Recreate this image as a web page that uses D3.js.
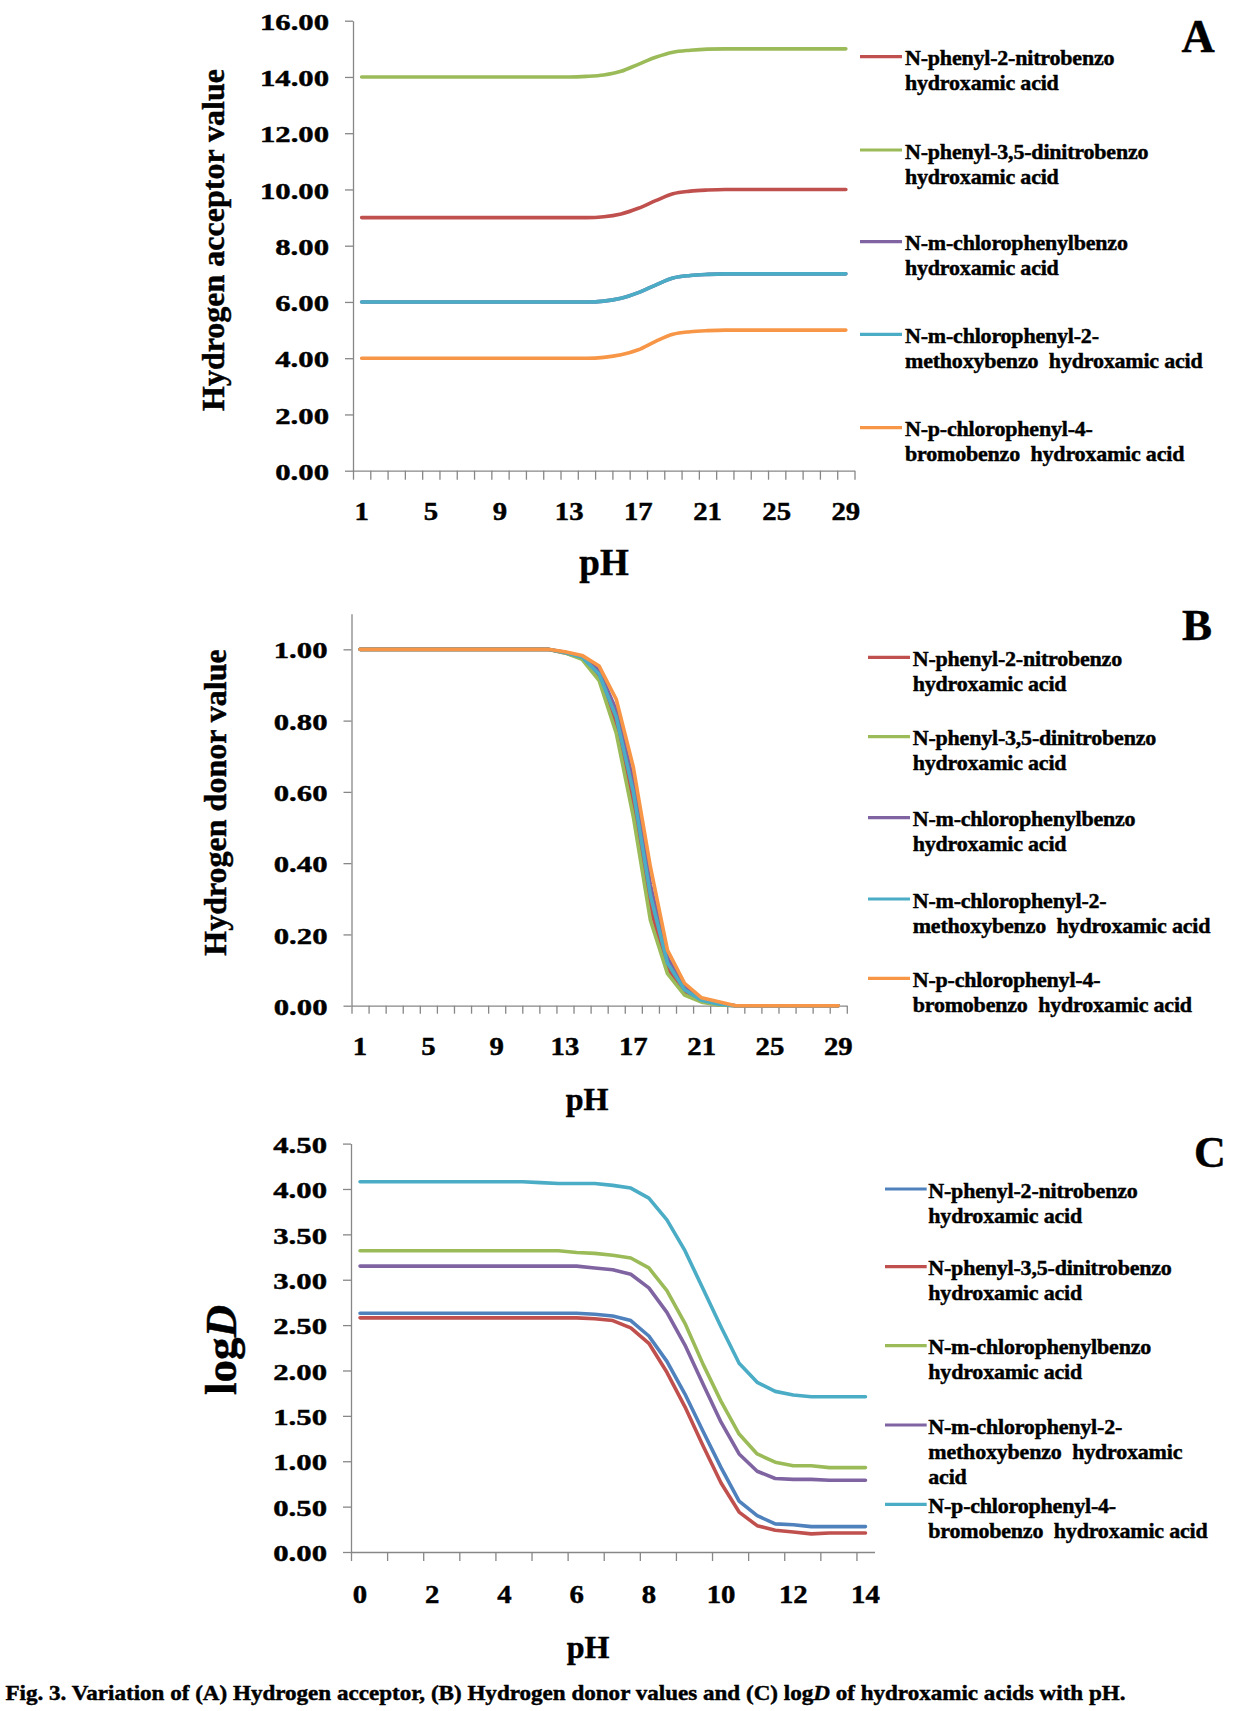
<!DOCTYPE html>
<html><head><meta charset="utf-8">
<script src="https://cdn.jsdelivr.net/npm/d3@7"></script>
<style>
html,body{margin:0;padding:0;background:#fff;}
svg{display:block;}
text{font-family:"Liberation Serif","Times New Roman",serif;font-weight:bold;fill:#000;white-space:pre;stroke:#000;stroke-width:0.45px;}
</style></head><body>
<svg id="chart" width="1245" height="1711"></svg>
<script>
// ---------- DATA ----------
const categoriesAB = [1,2,3,4,5,6,7,8,9,10,11,12,13,14,15,16,17,18,19,20,21,22,23,24,25,26,27,28,29];
const categoriesC = [0,0.5,1,1.5,2,2.5,3,3.5,4,4.5,5,5.5,6,6.5,7,7.5,8,8.5,9,9.5,10,10.5,11,11.5,12,12.5,13,13.5,14];
const xTickLabelsAB = [1,5,9,13,17,21,25,29];
const xTickLabelsC = [0,2,4,6,8,10,12,14];
const yTicksA = [0,2,4,6,8,10,12,14,16];
const yTicksB = [0,0.2,0.4,0.6,0.8,1.0];
const yTicksC = [0,0.5,1,1.5,2,2.5,3,3.5,4,4.5];

const seriesNamesAB = [
  ["N-phenyl-2-nitrobenzo","hydroxamic acid"],
  ["N-phenyl-3,5-dinitrobenzo","hydroxamic acid"],
  ["N-m-chlorophenylbenzo","hydroxamic acid"],
  ["N-m-chlorophenyl-2-","methoxybenzo  hydroxamic acid"],
  ["N-p-chlorophenyl-4-","bromobenzo  hydroxamic acid"]
];
const seriesNamesC = [
  ["N-phenyl-2-nitrobenzo","hydroxamic acid"],
  ["N-phenyl-3,5-dinitrobenzo","hydroxamic acid"],
  ["N-m-chlorophenylbenzo","hydroxamic acid"],
  ["N-m-chlorophenyl-2-","methoxybenzo  hydroxamic","acid"],
  ["N-p-chlorophenyl-4-","bromobenzo  hydroxamic acid"]
];
const colorsAB = ["#C0504D","#9BBB59","#8064A2","#4BACC6","#F79646"];
const colorsC = ["#4F81BD","#C0504D","#9BBB59","#8064A2","#4BACC6"];

// (A) Hydrogen acceptor value
const acceptorNitro    = [9,9,9,9,9,9,9,9,9,9,9,9,9,9,9.03,9.13,9.33,9.6,9.85,9.94,9.98,10,10,10,10,10,10,10,10];
const acceptorDinitro  = [14,14,14,14,14,14,14,14,14,14,14,14,14,14.02,14.07,14.2,14.45,14.7,14.88,14.95,14.99,15,15,15,15,15,15,15,15];
const acceptorMChloro  = [6,6,6,6,6,6,6,6,6,6,6,6,6,6,6.03,6.13,6.33,6.6,6.85,6.94,6.98,7,7,7,7,7,7,7,7];
const acceptorMethoxy  = [6,6,6,6,6,6,6,6,6,6,6,6,6,6,6.03,6.13,6.33,6.6,6.85,6.94,6.98,7,7,7,7,7,7,7,7];
const acceptorBromo    = [4,4,4,4,4,4,4,4,4,4,4,4,4,4,4.03,4.12,4.3,4.6,4.85,4.94,4.98,5,5,5,5,5,5,5,5];

// (B) Hydrogen donor value
const donorNitro   = [1,1,1,1,1,1,1,1,1,1,1,1,0.99,0.975,0.92,0.79,0.565,0.275,0.105,0.038,0.012,0.003,0,0,0,0,0,0,0];
const donorDinitro = [1,1,1,1,1,1,1,1,1,1,1,1,0.99,0.972,0.912,0.765,0.53,0.24,0.09,0.03,0.01,0.002,0,0,0,0,0,0,0];
const donorMChloro = [1,1,1,1,1,1,1,1,1,1,1,1,0.992,0.98,0.94,0.83,0.63,0.34,0.135,0.052,0.018,0.006,0,0,0,0,0,0,0];
const donorMethoxy = [1,1,1,1,1,1,1,1,1,1,1,1,0.991,0.978,0.93,0.81,0.6,0.31,0.12,0.045,0.015,0.004,0,0,0,0,0,0,0];
const donorBromo   = [1,1,1,1,1,1,1,1,1,1,1,1,0.993,0.983,0.953,0.86,0.67,0.39,0.156,0.063,0.022,0.011,0,0,0,0,0,0,0];

// (C) logD
const logDNitro   = [2.63,2.63,2.63,2.63,2.63,2.63,2.63,2.63,2.63,2.63,2.63,2.63,2.63,2.62,2.60,2.55,2.38,2.10,1.74,1.33,0.93,0.56,0.40,0.31,0.30,0.28,0.28,0.28,0.28];
const logDDinitro = [2.58,2.58,2.58,2.58,2.58,2.58,2.58,2.58,2.58,2.58,2.58,2.58,2.58,2.57,2.55,2.47,2.30,1.98,1.60,1.17,0.76,0.44,0.29,0.24,0.22,0.20,0.21,0.21,0.21];
const logDMChloro = [3.32,3.32,3.32,3.32,3.32,3.32,3.32,3.32,3.32,3.32,3.32,3.32,3.30,3.29,3.27,3.24,3.13,2.88,2.52,2.07,1.66,1.30,1.08,0.99,0.95,0.95,0.93,0.93,0.93];
const logDMethoxy = [3.15,3.15,3.15,3.15,3.15,3.15,3.15,3.15,3.15,3.15,3.15,3.15,3.15,3.13,3.11,3.06,2.91,2.64,2.28,1.85,1.43,1.08,0.89,0.81,0.80,0.80,0.79,0.79,0.79];
const logDBromo   = [4.08,4.08,4.08,4.08,4.08,4.08,4.08,4.08,4.08,4.08,4.07,4.06,4.06,4.06,4.04,4.01,3.90,3.66,3.32,2.90,2.48,2.08,1.87,1.77,1.73,1.71,1.71,1.71,1.71];

// ---------- DRAW ----------
const svg = d3.select("#chart");
const AXIS = "#878787";

function drawPanel(cfg) {
  const g = svg.append("g");
  const x = d3.scaleBand().domain(cfg.cats).range([cfg.x0, cfg.x1]).padding(0);
  const edge = d3.scaleLinear().domain([0, cfg.cats.length]).range([cfg.x0, cfg.x1]);
  const y = d3.scaleLinear().domain(cfg.yDomain).range([cfg.yBottom, cfg.yTop]);

  // y axis
  const ya = g.append("g").attr("transform", `translate(${cfg.x0},0)`)
    .call(d3.axisLeft(y).tickValues(cfg.yTicks).tickSize(8).tickSizeOuter(0).tickFormat(d3.format(".2f")));
  ya.selectAll("path,line").attr("stroke", AXIS).attr("stroke-width", 1.3);
  ya.selectAll("text").attr("font-size", 24).attr("font-family", '"Liberation Serif", serif')
    .attr("fill", "#000").attr("dy", "0.36em")
    .attr("x", -24 / 1.28).attr("transform", "scale(1.28,1)");

  // x axis line + tick marks at category edges
  const xa = g.append("g").attr("transform", `translate(0,${cfg.yBottom})`)
    .call(d3.axisBottom(edge).tickValues(cfg.edgeTicks).tickSize(cfg.xTickLen).tickSizeOuter(0).tickFormat(""));
  xa.selectAll("path,line").attr("stroke", AXIS).attr("stroke-width", 1.3);

  // x labels at category centres
  const xl = g.append("g").attr("transform", `translate(0,${cfg.yBottom})`)
    .call(d3.axisBottom(x).tickValues(cfg.xLabels).tickSize(0));
  xl.select(".domain").remove();
  xl.selectAll("text").attr("font-size", 25).attr("font-family", '"Liberation Serif", serif')
    .attr("fill", "#000").attr("y", cfg.xLabelOff).attr("dy", 0)
    .attr("transform", "scale(1.15,1)");

  // lines
  const line = d3.line()
    .x((d, i) => x(cfg.cats[i]) + x.bandwidth() / 2)
    .y(d => y(d))
    .curve(cfg.curve);
  cfg.series.forEach((s, i) => {
    g.append("path").datum(s).attr("d", line).attr("fill", "none")
      .attr("stroke", cfg.colors[i]).attr("stroke-width", 3.6)
      .attr("stroke-linejoin", "round").attr("stroke-linecap", "round");
  });

  // axis titles
  g.append("text").attr("transform", `translate(${cfg.yTitleX},${cfg.yTitleY}) rotate(-90)`)
    .attr("text-anchor", "middle").attr("font-size", cfg.yTitleSize)
    .call(t => cfg.yTitle(t));
  g.append("text").attr("x", cfg.pHX).attr("y", cfg.pHY).attr("text-anchor", "middle")
    .attr("font-size", cfg.pHSize).text("pH");

  // panel letter
  g.append("text").attr("x", cfg.letterX).attr("y", cfg.letterY).attr("text-anchor", "middle")
    .attr("font-size", cfg.letterSize).text(cfg.letter);

  // legend
  const lg = g.append("g");
  cfg.names.forEach((lines, i) => {
    const ly = cfg.legY[i];
    lg.append("line").attr("x1", cfg.legX0).attr("x2", cfg.legX1).attr("y1", ly).attr("y2", ly)
      .attr("stroke", cfg.colors[i]).attr("stroke-width", 3.2);
    lines.forEach((tx, j) => {
      lg.append("text").attr("x", cfg.legTextX).attr("y", ly + 8.5 + j * 25)
        .attr("font-size", 22).attr("letter-spacing", "-0.2").text(tx);
    });
  });
}

drawPanel({
  cats: categoriesAB, x0: 353, x1: 854.5, yDomain: [0, 16], yBottom: 470.7, yTop: 20.7,
  yTicks: yTicksA, edgeTicks: d3.range(0, 30), xTickLen: 9, xLabels: xTickLabelsAB, xLabelOff: 49.5,
  series: [acceptorNitro, acceptorDinitro, acceptorMChloro, acceptorMethoxy, acceptorBromo],
  colors: colorsAB, curve: d3.curveMonotoneX,
  yTitle: t => t.text("Hydrogen acceptor value"), yTitleX: 223.5, yTitleY: 240, yTitleSize: 32,
  pHX: 604, pHY: 575, pHSize: 37,
  letter: "A", letterX: 1198, letterY: 52, letterSize: 46,
  names: seriesNamesAB, legY: [56.7, 150, 241.7, 334.3, 427.7], legX0: 860, legX1: 902, legTextX: 905
});

drawPanel({
  cats: categoriesAB, x0: 351.5, x1: 846.8, yDomain: [0, 1.1], yBottom: 1005.7, yTop: 613.7,
  yTicks: yTicksB, edgeTicks: d3.range(0, 30), xTickLen: 8, xLabels: xTickLabelsAB, xLabelOff: 49.5,
  series: [donorNitro, donorDinitro, donorMChloro, donorMethoxy, donorBromo],
  colors: colorsAB, curve: d3.curveLinear,
  yTitle: t => t.text("Hydrogen donor value"), yTitleX: 225.5, yTitleY: 802.5, yTitleSize: 32,
  pHX: 587, pHY: 1110, pHSize: 32,
  letter: "B", letterX: 1197, letterY: 640, letterSize: 45,
  names: seriesNamesAB, legY: [657.3, 736.7, 817.7, 899, 978.3], legX0: 868, legX1: 910, legTextX: 912.7
});

drawPanel({
  cats: categoriesC, x0: 351, x1: 874.5, yDomain: [0, 4.5], yBottom: 1552, yTop: 1143.6,
  yTicks: yTicksC, edgeTicks: d3.range(0, 29, 2), xTickLen: 9, xLabels: xTickLabelsC, xLabelOff: 51,
  series: [logDNitro, logDDinitro, logDMChloro, logDMethoxy, logDBromo],
  colors: colorsC, curve: d3.curveLinear,
  yTitle: t => { t.append("tspan").text("log"); t.append("tspan").attr("font-style", "italic").text("D"); },
  yTitleX: 235.5, yTitleY: 1350, yTitleSize: 45,
  pHX: 588, pHY: 1658, pHSize: 32,
  letter: "C", letterX: 1210, letterY: 1167, letterSize: 44,
  names: seriesNamesC, legY: [1189, 1266.7, 1345.7, 1425, 1504.3], legX0: 885, legX1: 926.7, legTextX: 928.3
});

// caption
const cap = svg.append("text").attr("x", 5.5).attr("y", 1700).attr("font-size", 21);
cap.append("tspan").text("Fig. 3. Variation of (A) Hydrogen acceptor, (B) Hydrogen donor values and (C) log");
cap.append("tspan").attr("font-style", "italic").text("D");
cap.append("tspan").text(" of hydroxamic acids with pH.");
cap.attr("textLength", 1120).attr("lengthAdjust", "spacingAndGlyphs");
</script>
</body></html>
